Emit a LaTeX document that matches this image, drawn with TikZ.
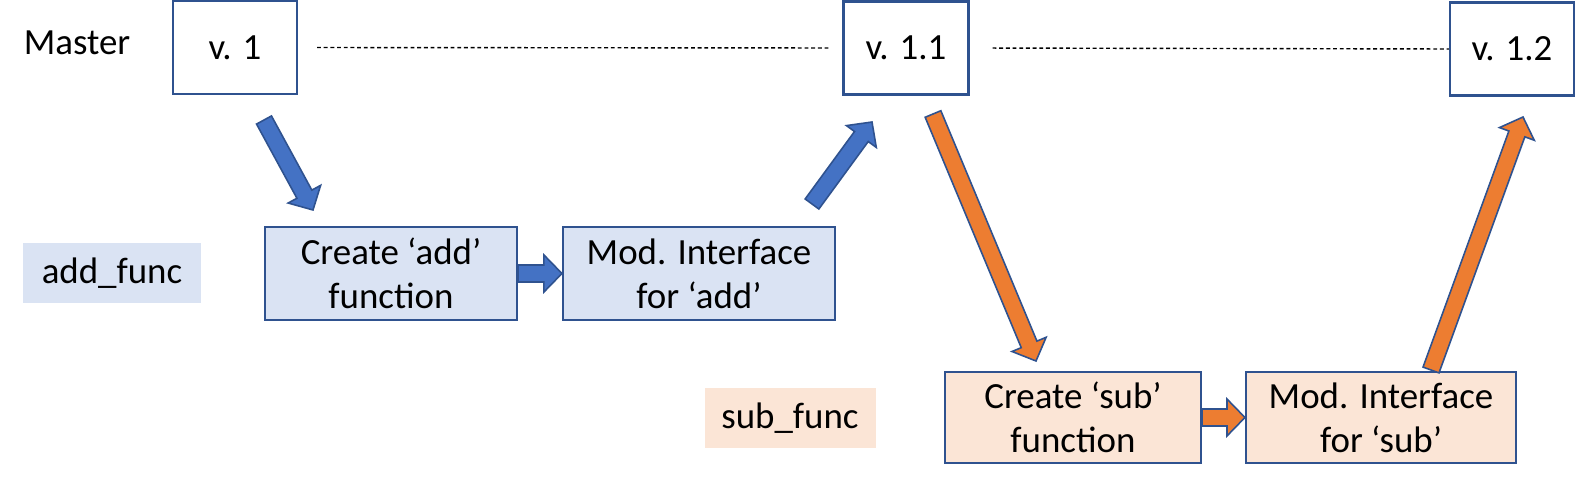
\documentclass[tikz,border=0pt]{standalone}
\usepackage{fontspec}
\setmainfont{Carlito}
\usepackage{tikz}
\usetikzlibrary{positioning,calc}
\definecolor{GitEdge}{HTML}{2F528F}
\definecolor{GitBlue}{HTML}{4472C4}
\definecolor{GitOrange}{HTML}{ED7D31}
\definecolor{GitAddBg}{HTML}{DAE3F3}
\definecolor{GitSubBg}{HTML}{FBE5D6}
\tikzset{
  gitbox/.style={
    rectangle,
    draw=GitEdge,
    line width=0.6pt,
    fill=white,
    align=center,
    inner sep=0pt,
    font=\fontsize{10.5}{12.5}\selectfont,
    minimum height=9.3mm
  },
  gitver/.style={gitbox,minimum width=12.4mm},
  gitadd/.style={gitbox,fill=GitAddBg},
  gitsub/.style={gitbox,fill=GitSubBg},
  gittag/.style={rectangle,inner sep=0pt,font=\fontsize{10.5}{12.5}\selectfont,minimum height=6mm},
  gitline/.style={draw=black,line width=0.4pt,dash pattern=on 1.1pt off 0.8pt},
  gitblue/.style={fill=GitBlue,draw=GitEdge,line width=0.45pt},
  gitorange/.style={fill=GitOrange,draw=GitEdge,line width=0.45pt},
}
% block arrow: style, from, to
\newcommand{\fatarrow}[3]{%
  \coordinate (fa head) at ($(#3)!1.8mm!(#2)$);
  \draw[#1] ($(#2)!0.85mm!90:(#3)$) -- ($(fa head)!0.85mm!90:(#3)$)
    -- ($(fa head)!1.85mm!90:(#3)$) -- (#3)
    -- ($(fa head)!1.85mm!-90:(#3)$) -- ($(fa head)!0.85mm!-90:(#3)$)
    -- ($(#2)!0.85mm!-90:(#3)$) -- cycle;
}

\begin{document}
\begin{tikzpicture}[x=0.1mm,y=-0.1mm]
  \useasboundingbox (0,0) rectangle (1575,488);

  % master line
  \node[font=\fontsize{10.5}{12.5}\selectfont] (master) at (77,43) {Master};
  \node[gitver] (v1) at (235,47.5) {v. 1};
  \node[gitver,minimum width=12.5mm] (v11) at (906,48) {v. 1.1};
  \node[gitver] (v12) at (1512,49) {v. 1.2};
  \draw[gitline,shorten <=1.9mm,shorten >=1.2mm] (v1.east) -- (v11.west);
  \draw[gitline,shorten <=2.3mm] (v11.east) -- (v12.west);

  % add branch
  \node[gittag,fill=GitAddBg,minimum width=17.8mm] (addtag) at (112,273) {add\_func};
  \node[gitadd,minimum width=25.2mm] (cadd) at (391,273.5) {Create ‘add’\\function};
  \node[gitadd,minimum width=27.2mm] (madd) at (699,273.5) {Mod. Interface\\for ‘add’};

  % sub branch
  \node[gittag,fill=GitSubBg,minimum width=17.1mm] (subtag) at (790,418) {sub\_func};
  \node[gitsub,minimum width=25.6mm,minimum height=9.1mm] (csub) at (1073,417.5) {Create ‘sub’\\function};
  \node[gitsub,minimum width=27mm,minimum height=9.1mm] (msub) at (1381,417.5) {Mod. Interface\\for ‘sub’};

  \coordinate (a1s) at (264,120);
  \coordinate (a1e) at (313,210);
  \coordinate (a2s) at (812,204);
  \coordinate (a2e) at (872,122);
  \coordinate (o1s) at (933,114);
  \coordinate (o1e) at (1036,361);
  \coordinate (o2s) at (1431,370);
  \coordinate (o2e) at (1523,117);

  \fatarrow{gitblue}{a1s}{a1e}
  \fatarrow{gitblue}{cadd.east}{madd.west}
  \fatarrow{gitblue}{a2s}{a2e}
  \fatarrow{gitorange}{o1s}{o1e}
  \fatarrow{gitorange}{csub.east}{msub.west}
  \fatarrow{gitorange}{o2s}{o2e}
\end{tikzpicture}
\end{document}
